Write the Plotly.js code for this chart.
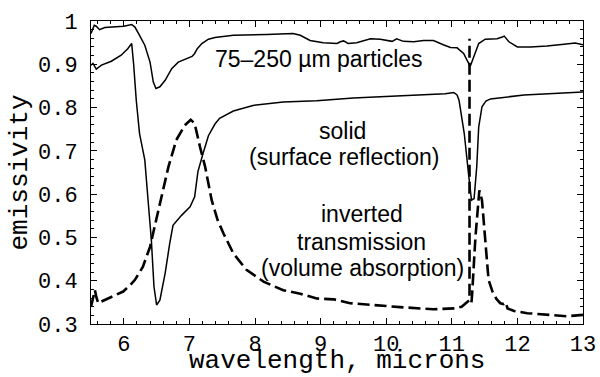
<!DOCTYPE html>
<html>
<head>
<meta charset="utf-8">
<script src="https://cdn.plot.ly/plotly-3.0.1.min.js"></script>
<style>html,body{margin:0;padding:0;background:#fff;}#chart{width:600px;height:377px;}</style>
</head>
<body>
<div id="chart"></div>
<script>
// 75–250 µm particles
const particlesX = [5.50,5.53,5.55,5.58,5.63,5.71,5.80,5.91,6.00,6.12,6.17,6.24,6.32,6.40,6.45,6.49,6.55,6.63,6.73,6.83,6.93,7.04,7.08,7.12,7.19,7.29,7.39,7.67,8.18,8.58,8.69,8.84,9.04,9.25,9.30,9.35,9.42,9.55,9.76,9.91,10.09,10.16,10.26,10.42,10.57,10.72,10.87,10.98,11.08,11.18,11.28,11.35,11.41,11.51,11.69,11.77,11.80,11.87,12.00,12.20,12.45,12.71,12.88,13.00];
const particlesY = [0.971,0.985,0.990,0.988,0.980,0.985,0.986,0.986,0.988,0.992,0.986,0.967,0.944,0.905,0.859,0.844,0.848,0.863,0.890,0.905,0.912,0.918,0.925,0.936,0.948,0.958,0.962,0.967,0.969,0.971,0.967,0.955,0.950,0.948,0.952,0.954,0.948,0.950,0.959,0.958,0.953,0.959,0.953,0.952,0.955,0.955,0.945,0.939,0.938,0.925,0.895,0.925,0.948,0.958,0.959,0.963,0.965,0.952,0.940,0.940,0.942,0.946,0.949,0.945];

// solid (surface reflection)
const solidX = [5.50,5.53,5.58,5.66,5.81,5.96,6.06,6.12,6.15,6.19,6.24,6.32,6.37,6.42,6.46,6.50,6.55,6.63,6.70,6.75,6.88,7.01,7.08,7.13,7.21,7.29,7.39,7.46,7.67,7.97,8.43,8.94,9.50,10.06,10.57,10.90,11.03,11.08,11.11,11.15,11.19,11.26,11.30,11.34,11.38,11.41,11.46,11.52,11.59,12.10,12.60,13.00];
const solidY = [0.898,0.902,0.889,0.898,0.907,0.921,0.936,0.948,0.900,0.817,0.740,0.679,0.586,0.494,0.386,0.344,0.355,0.417,0.486,0.528,0.551,0.571,0.594,0.652,0.695,0.735,0.762,0.775,0.792,0.805,0.813,0.816,0.822,0.826,0.829,0.832,0.835,0.829,0.817,0.782,0.740,0.640,0.586,0.590,0.663,0.755,0.802,0.815,0.820,0.829,0.832,0.836];

// inverted transmission (volume absorption); null = the spike's return stroke overlaps its rise
const transX = [5.50,5.53,5.56,5.58,5.61,5.66,5.81,5.99,6.10,6.17,6.29,6.40,6.47,6.57,6.68,6.80,6.93,7.02,7.08,7.16,7.24,7.34,7.43,7.52,7.67,7.87,8.13,8.43,8.69,8.94,9.20,9.45,9.61,10.21,10.72,11.03,11.15,11.22,11.27,11.27,11.28,11.30,11.31,11.36,11.40,11.42,11.46,11.51,11.56,11.62,11.68,11.74,11.79,11.82,11.85,11.95,12.15,12.50,12.75,13.00];
const transY = [0.340,0.360,0.378,0.363,0.348,0.352,0.363,0.375,0.390,0.402,0.432,0.478,0.525,0.594,0.663,0.725,0.759,0.772,0.763,0.710,0.663,0.586,0.540,0.509,0.463,0.425,0.398,0.378,0.370,0.359,0.357,0.348,0.346,0.339,0.334,0.336,0.340,0.348,0.355,0.959,null,0.350,0.370,0.500,0.570,0.609,0.586,0.494,0.402,0.375,0.358,0.348,0.346,0.350,0.336,0.330,0.325,0.321,0.318,0.321];

const labelText = ["75–250 µm particles","solid","(surface reflection)","inverted","transmission","(volume absorption)"];
const labelX = [8.97,9.33,9.35,9.63,9.63,9.64];
const labelY = [0.912,0.745,0.685,0.554,0.490,0.430];

const xTitle = 'wavelength, microns';
const yTitle = 'emissivity';

const data = [
  {x: particlesX, y: particlesY, type: 'scatter', mode: 'lines', line: {color: '#000', width: 1.5}, hoverinfo: 'skip'},
  {x: solidX, y: solidY, type: 'scatter', mode: 'lines', line: {color: '#000', width: 1.5}, hoverinfo: 'skip'},
  {x: transX, y: transY, type: 'scatter', mode: 'lines', connectgaps: false, line: {color: '#000', width: 2.6, dash: '12px,5px'}, hoverinfo: 'skip'}
];

const tickFont = {family: '"Liberation Mono", "Courier New", monospace', size: 22, color: '#000'};
const titleFont = {family: '"Liberation Mono", "Courier New", monospace', size: 26, color: '#000'};

const annotations = labelText.map((t, i) => ({
  text: t, x: labelX[i], y: labelY[i], xref: 'x', yref: 'y', showarrow: false,
  xanchor: 'center', yanchor: 'middle',
  font: {family: '"Liberation Sans", Arial, sans-serif', size: 23, color: '#000'}
}));
annotations.push({
  text: xTitle, x: 0.5, y: -0.175, xref: 'paper', yref: 'paper', showarrow: false,
  xanchor: 'center', yanchor: 'bottom', borderpad: 0, font: titleFont
});

const layout = {
  width: 600, height: 377,
  margin: {l: 91, r: 17, t: 21, b: 53, pad: 0},
  paper_bgcolor: '#fff', plot_bgcolor: '#fff',
  showlegend: false,
  xaxis: {
    range: [5.5, 13], tick0: 6, dtick: 1, ticks: 'inside', ticklen: 6, tickwidth: 1, tickcolor: '#000',
    mirror: 'ticks', showline: true, linecolor: '#000', linewidth: 1,
    showgrid: false, zeroline: false, tickfont: tickFont, ticklabelstandoff: 0,
    minor: {dtick: 0.2, ticks: 'inside', ticklen: 3, tickcolor: '#000', showgrid: false}
  },
  yaxis: {
    range: [0.3, 1], tick0: 0.3, dtick: 0.1, ticks: 'inside', ticklen: 6, tickwidth: 1, tickcolor: '#000',
    mirror: 'ticks', showline: true, linecolor: '#000', linewidth: 1,
    showgrid: false, zeroline: false, tickfont: tickFont, ticklabelstandoff: 8,
    minor: {dtick: 0.02, ticks: 'inside', ticklen: 3, tickcolor: '#000', showgrid: false},
    title: {text: yTitle, font: titleFont, standoff: 2}
  },
  annotations: annotations
};

Plotly.newPlot('chart', data, layout, {staticPlot: true, displayModeBar: false});
</script>
</body>
</html>
